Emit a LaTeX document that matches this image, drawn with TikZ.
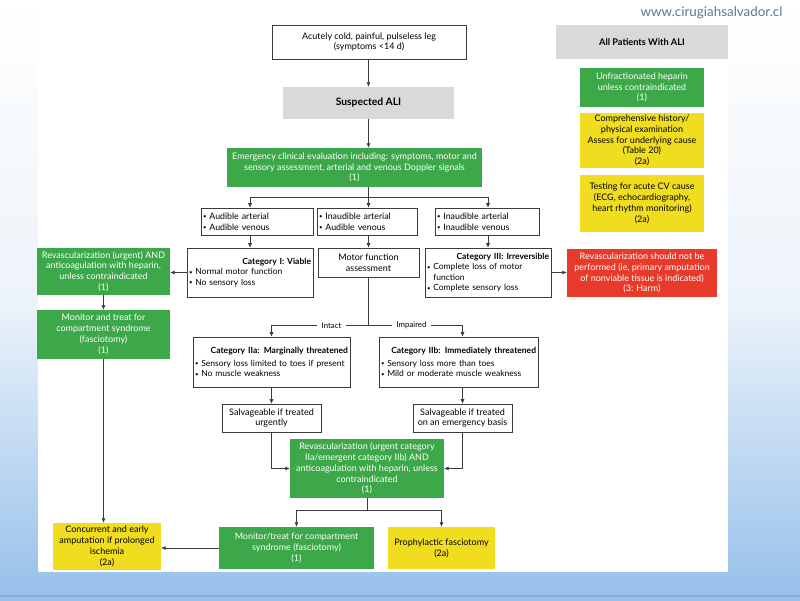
\documentclass[tikz,border=0pt]{standalone}
\usepackage{fontspec}
\setmainfont{Lato}
\usetikzlibrary{arrows.meta,calc}
\definecolor{aligreen}{RGB}{60,168,74}
\definecolor{aliyellow}{RGB}{240,221,32}
\definecolor{alired}{RGB}{232,58,42}
\definecolor{aligray}{RGB}{217,217,217}
\definecolor{linec}{RGB}{60,60,60}
\definecolor{bgblue}{RGB}{150,192,234}
\definecolor{bgpale}{RGB}{236,243,250}
\definecolor{webc}{RGB}{95,120,145}
\newcommand\fsz{\fontsize{9}{10.8}\selectfont}
\newcommand\catsz{\fontsize{8.5}{10.6}\selectfont}
\newcommand\bl{\raisebox{0.6pt}{\fontsize{6}{6}\selectfont•}\ }
\begin{document}
\begin{tikzpicture}[x=1pt,y=-1pt,
  base/.style={inner xsep=2pt, inner ysep=1pt, align=center, font=\fsz},
  sz/.style 2 args={minimum width=#1pt, minimum height=#2pt},
  wbox/.style={base, draw=linec, line width=0.6pt, fill=white},
  lbox/.style={wbox, align=left, text width=#1pt, font=\catsz},
  gbox/.style={base, fill=aligreen, text=white},
  ybox/.style={base, fill=aliyellow, text=black},
  rbox/.style={base, fill=alired, text=white},
  graybox/.style={base, fill=aligray, font=\fontsize{9.2}{11}\selectfont\bfseries},
  conn/.style={draw=linec, line width=0.6pt},
  arr/.style={conn, -{Latex[length=4.5pt,width=4pt]}},
  lab/.style={fill=white, inner xsep=5pt, inner ysep=1pt, font=\fontsize{7.8}{9}\selectfont}
]
\useasboundingbox (0,0) rectangle (800,600);
% background
\fill[bgpale] (0,0) rectangle (800,600);
\shade[top color=white, bottom color=bgpale] (0,0) rectangle (800,300);
\shade[top color=bgpale, bottom color=bgblue] (0,300) rectangle (800,600);
\fill[bgblue!85!black!90] (0,595) rectangle (800,597);
\fill[white] (38,0) rectangle (728,572);
\node[anchor=east, text=webc, font=\fontsize{13.4}{15}\selectfont] (web) at (786,13) {www.cirugiahsalvador.cl};

% main column
\node[wbox, sz={194}{34}] (top) at (369,42) {Acutely cold, painful, pulseless leg\\(symptoms <14 d)};
\node[graybox, sz={171}{32}, font=\fontsize{10.3}{12}\selectfont\bfseries] (susp) at (368.5,103) {Suspected ALI};
\node[gbox, sz={255}{39}] (emerg) at (354.5,167.5) {Emergency clinical evaluation including: symptoms, motor and\\sensory assessment, arterial and venous Doppler signals\\(1)};

\node[lbox=108, minimum height=27pt, font=\fontsize{8.8}{10.8}\selectfont] (aa) at (257,221.5) {\bl Audible arterial\\\bl Audible venous};
\node[lbox=96, minimum height=27pt, font=\fontsize{8.8}{10.8}\selectfont] (ia) at (367,221.5) {\bl Inaudible arterial\\\bl Audible venous};
\node[lbox=100, minimum height=27pt, font=\fontsize{8.8}{10.8}\selectfont] (ii) at (487,221.5) {\bl Inaudible arterial\\\bl Inaudible venous};

\node[lbox=122, minimum height=49pt] (cat1) at (250,272.5) {\hspace*{\fill}\textbf{Category I: Viable}\hspace*{\fill}\\\bl Normal motor function\\\bl No sensory loss};
\node[gbox, sz={133}{47}] (revU) at (103.5,271.5) {Revascularization (urgent) AND\\anticoagulation with heparin,\\unless contraindicated\\(1)};
\node[gbox, sz={133}{49}] (monU) at (103.5,334.5) {Monitor and treat for\\compartment syndrome\\(fasciotomy)\\(1)};
\node[wbox, sz={101}{29}] (motor) at (368.5,262.5) {Motor function\\assessment};
\node[lbox=122, minimum height=49pt] (cat3) at (488,272.5) {\hspace*{\fill}\textbf{Category III: Irreversible}\hspace*{\fill}\\\bl Complete loss of motor\\\phantom{\bl}function\\\bl Complete sensory loss};
\node[rbox, sz={150}{48}] (red) at (642,273) {Revascularization should not be\\performed (ie, primary amputation\\of nonviable tissue is indicated)\\(3: Harm)};

\node[lbox=153, minimum height=50pt] (cat2a) at (271.5,362) {\hspace*{\fill}\textbf{Category IIa: Marginally threatened}\hspace*{\fill}\\[2pt]\bl Sensory loss limited to toes if present\\\bl No muscle weakness};
\node[lbox=155, minimum height=50pt] (cat2b) at (458.5,362) {\hspace*{\fill}\textbf{Category IIb: Immediately threatened}\hspace*{\fill}\\[2pt]\bl Sensory loss more than toes\\\bl Mild or moderate muscle weakness};
\node[wbox, sz={99}{28}] (salvA) at (271.5,418) {Salvageable if treated\\urgently};
\node[wbox, sz={99}{28}] (salvB) at (462.5,418) {Salvageable if treated\\on an emergency basis};
\node[gbox, sz={154}{59}] (revC) at (367,468.5) {Revascularization (urgent category\\IIa/emergent category IIb) AND\\anticoagulation with heparin, unless\\contraindicated\\(1)};
\node[gbox, sz={155}{42}] (monC) at (296.5,548) {Monitor/treat for compartment\\syndrome (fasciotomy)\\(1)};
\node[ybox, sz={107}{42}] (proph) at (441.5,548) {Prophylactic fasciotomy\\(2a)};
\node[ybox, sz={108}{47}] (conc) at (107,546.5) {Concurrent and early\\amputation if prolonged\\ischemia\\(2a)};

% right column
\node[graybox, sz={172}{34}] (allp) at (642,42) {All Patients With ALI};
\node[gbox, sz={124}{39}] (hep) at (642,87.5) {Unfractionated heparin\\unless contraindicated\\(1)};
\node[ybox, sz={124}{55}] (comp) at (642,140.5) {Comprehensive history/\\physical examination\\Assess for underlying cause\\(Table 20)\\(2a)};
\node[ybox, sz={124}{57}] (test) at (642,203.5) {Testing for acute CV cause\\(ECG, echocardiography,\\heart rhythm monitoring)\\(2a)};

% connectors
\draw[arr] (top.south -| susp.south) -- (susp.north);
\draw[arr] (susp.south) -- (susp.south |- emerg.north);
\draw[conn] (susp.south |- emerg.south) -- ++(0,10) coordinate (s1);
\draw[conn] (s1 -| cat1.north) -- (s1 -| cat3.north);
\draw[arr] (s1 -| cat1.north) -- (aa.north -| cat1.north);
\draw[arr] (s1 -| motor.north) -- (ia.north -| motor.north);
\draw[arr] (s1 -| cat3.north) -- (ii.north -| cat3.north);
\draw[arr] (aa.south -| cat1.north) -- (cat1.north);
\draw[arr] (ia.south -| motor.north) -- (motor.north);
\draw[arr] (ii.south -| cat3.north) -- (cat3.north);
\draw[arr] (cat1.west) -- (cat1.west -| revU.east);
\draw[arr] (revU.south) -- (monU.north);
\draw[arr] (monU.south) -- (monU.south |- conc.north);
\draw[arr] (cat3.east) -- (cat3.east -| red.west);
\draw[conn] (motor.south) -- ++(0,48) coordinate (s2);
\draw[conn] (s2 -| cat2a.north) -- (s2 -| salvB.north);
\draw[arr] (s2 -| cat2a.north) -- (cat2a.north);
\draw[arr] (s2 -| salvB.north) -- (cat2b.north -| salvB.north);
\node[lab] (intact) at ($(s2)+(-37,0)$) {Intact};
\node[lab] (impaired) at ($(s2)+(43,0)$) {Impaired};
\draw[arr] (cat2a.south) -- (salvA.north);
\draw[arr] (cat2b.south -| salvB.north) -- (salvB.north);
\draw[arr] (salvA.south) |- (revC.west);
\draw[arr] (salvB.south) |- (revC.east);
\draw[conn] (revC.south) -- ++(0,12) coordinate (s3);
\draw[conn] (s3 -| monC.north) -- (s3 -| proph.north);
\draw[arr] (s3 -| monC.north) -- (monC.north);
\draw[arr] (s3 -| proph.north) -- (proph.north);
\draw[arr] (monC.west) -- (monC.west -| conc.east);
\end{tikzpicture}
\end{document}
